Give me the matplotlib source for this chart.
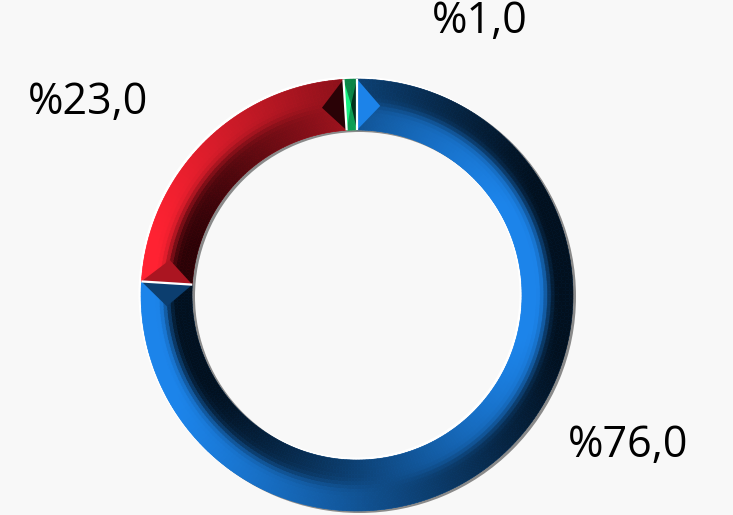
import numpy as np
import matplotlib
matplotlib.use('Agg')
import matplotlib.pyplot as plt
from matplotlib.patches import Wedge, Polygon
from matplotlib.collections import PatchCollection
from matplotlib.colors import to_rgb

#   data
labels = ['%76,0', '%23,0', '%1,0']
values = [76.0, 23.0, 1.0]
brightColors = ['#1c84ea', '#ff2232', '#18f080']
darkColors = ['#02101e', '#2a0206', '#02301a']

#   label positions in pixels (x right, y down)
labelPos = [(628, 446), (88, 103), (480, 22)]

#   layout, pixels
W, H = 733, 515
cx, cy = 357, H - 295
rOut, rIn = 216, 165
bg = '#f8f8f8'
light = np.array([-1.0, -0.15])
light = light / np.linalg.norm(light)

plt.rcParams['font.family'] = ['Open Sans', 'DejaVu Sans']

fig = plt.figure(figsize=(W / 100, H / 100), dpi=100)
fig.patch.set_facecolor(bg)
ax = fig.add_axes([0, 0, 1, 1])
ax.set_facecolor(bg)

#   soft edge: white highlight up-left, grey shadow down-right
ax.add_patch(Wedge((cx - 1.5, cy + 1.5), rOut + 1, 0, 360, width=rOut - rIn + 2,
                   facecolor='white', edgecolor='none', zorder=0))
ax.add_patch(Wedge((cx + 2.5, cy - 1.5), rOut + 0.5, 0, 360, width=rOut - rIn + 1,
                   facecolor='#8a8a8a', edgecolor='none', zorder=0.5))

wedges, _ = ax.pie(values, startangle=90, counterclock=False, radius=rOut,
                   center=(cx, cy), colors=brightColors, frame=True,
                   wedgeprops=dict(width=rOut - rIn, linewidth=0))


def shade(i, f):
    f = min(max(f, 0.0), 1.0)
    b = np.array(to_rgb(brightColors[i]))
    d = np.array(to_rgb(darkColors[i]))
    return tuple(d + f * (b - d))


nBands = 14
bandW = (rOut - rIn) / nBands
for i, w in enumerate(wedges):
    t1, t2 = w.theta1, w.theta2
    nSteps = max(int(np.ceil(t2 - t1)), 2)
    edges = np.linspace(t1, t2, nSteps + 1)
    patches, cols = [], []
    for a0, a1 in zip(edges[:-1], edges[1:]):
        am = np.radians(0.5 * (a0 + a1))
        d = np.cos(am) * light[0] + np.sin(am) * light[1]
        for k in range(nBands):
            t = (k + 0.5) / nBands * 2 - 1      # -1 inner, +1 outer
            s = np.tanh(4 * t) / np.tanh(4)
            f = 0.5 + 0.55 * s * d
            patches.append(Wedge((cx, cy), rIn + (k + 1) * bandW, a0, a1, width=bandW))
            cols.append(shade(i, f))
    pc = PatchCollection(patches, facecolors=cols, edgecolors=cols, linewidths=0.4, zorder=2)
    ax.add_collection(pc)

    #   bevelled end caps
    span = t2 - t1
    delta = min(7.0, span / 2)
    rMid = 0.5 * (rIn + rOut)
    for ang, sgn in ((t1, 1), (t2, -1)):
        a = np.radians(ang)
        ap = np.radians(ang + sgn * delta)
        tang = -sgn * np.array([-np.sin(a), np.cos(a)])   # pointing out of the slice
        f = 0.5 + 0.5 * float(tang @ light)
        tri = Polygon([(cx + rIn * np.cos(a), cy + rIn * np.sin(a)),
                       (cx + rOut * np.cos(a), cy + rOut * np.sin(a)),
                       (cx + rMid * np.cos(ap), cy + rMid * np.sin(ap))],
                      closed=True, facecolor=shade(i, f), edgecolor='none', zorder=3)
        ax.add_patch(tri)

#   white separators between slices
for w in wedges:
    a = np.radians(w.theta1)
    ax.plot([cx + rIn * np.cos(a), cx + rOut * np.cos(a)],
            [cy + rIn * np.sin(a), cy + rOut * np.sin(a)],
            color='white', lw=1.6, zorder=4, solid_capstyle='butt')

for lab, (px, py) in zip(labels, labelPos):
    ax.text(px, H - py, lab, ha='center', va='center', fontsize=31, color='black')

ax.set_xlim(0, W)
ax.set_ylim(0, H)
ax.set_aspect('equal')
ax.axis('off')
fig.savefig('out.png', dpi=100, facecolor=bg)
